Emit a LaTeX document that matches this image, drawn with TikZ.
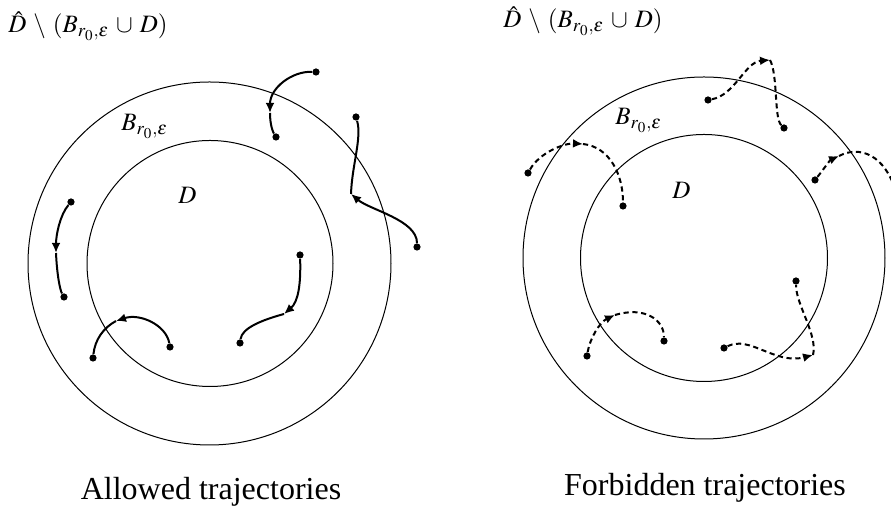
\documentclass[tikz,border=0pt]{standalone}
\usepackage{mathptmx}
\usepackage{fontspec}
\setmainfont{Liberation Serif}
\usetikzlibrary{arrows.meta}
\newcommand\setlabelfont{\fontsize{12.5}{14}\selectfont\medmuskip=5mu\relax}

\begin{document}
\begin{tikzpicture}[
  x=0.5pt,y=-0.5pt,
  ring/.style={line width=0.5pt},
  traj/.style={line width=1pt},
  dashtraj/.style={traj,dash pattern=on 2.6pt off 1.8pt},
  headed/.style={-{Latex[length=5pt,width=4.4pt]}},
  dot/.style={circle,fill,inner sep=0pt,minimum size=3.6pt},
  setlabel/.style={font=\setlabelfont,inner sep=0pt,anchor=base west},
  caption/.style={font=\fontsize{16}{19}\selectfont,inner sep=0pt,anchor=base}
]
  \useasboundingbox (0,0) rectangle (891,506);

  % left picture: allowed
  \draw[ring] (209.5,263.5) circle[radius=181.5];
  \draw[ring] (210,263.5) circle[radius=123];
  \node[setlabel] (lhat) at (8,33) {$\hat{D}\setminus(B_{r_0,\varepsilon}\cup D)$};
  \node[setlabel] (lball) at (121,131) {$B_{r_0,\varepsilon}$};
  \node[setlabel] (ldom) at (178,204) {$D$};
  \node[caption] (lcap) at (211,500) {Allowed trajectories};

  \node[dot] (L1a) at (316,72) {};
  \node[dot] (L1b) at (276,137) {};
  \coordinate (L1m) at (270,113);
  \node[dot] (L2a) at (417,247) {};
  \node[dot] (L2b) at (356,117) {};
  \coordinate (L2m) at (351,194);
  \node[dot] (L3a) at (71,202) {};
  \node[dot] (L3b) at (64,297) {};
  \coordinate (L3m) at (56,253);
  \node[dot] (L4a) at (300,255) {};
  \node[dot] (L4b) at (240,343) {};
  \coordinate (L4m) at (284,314);
  \node[dot] (L5a) at (170,347) {};
  \node[dot] (L5b) at (93,358) {};
  \coordinate (L5m) at (116,321);

  \draw[traj,headed] (L1a) .. controls (292,71) and (270,88) .. (L1m);
  \draw[traj] (L1m) .. controls (270,125) and (273,132) .. (L1b);
  \draw[traj,headed] (L2a) .. controls (417,220) and (370,210) .. (L2m);
  \draw[traj] (L2m) .. controls (352,165) and (362,138) .. (L2b);
  \draw[traj,headed] (L3a) .. controls (60,215) and (56,235) .. (L3m);
  \draw[traj] (L3m) .. controls (57,275) and (60,290) .. (L3b);
  \draw[traj,headed] (L4a) .. controls (301,285) and (298,302) .. (L4m);
  \draw[traj] (L4m) .. controls (262,320) and (242,328) .. (L4b);
  \draw[traj,headed] (L5a) .. controls (166,325) and (140,313) .. (L5m);
  \draw[traj] (L5m) .. controls (103,328) and (95,340) .. (L5b);

  % right picture: forbidden
  \draw[ring] (704,258) circle[radius=181];
  \draw[ring] (704,258) circle[radius=123.5];
  \node[setlabel] (rhat) at (503,28) {$\hat{D}\setminus(B_{r_0,\varepsilon}\cup D)$};
  \node[setlabel] (rball) at (615,125) {$B_{r_0,\varepsilon}$};
  \node[setlabel] (rdom) at (672,199) {$D$};
  \node[caption] (rcap) at (705,496) {Forbidden trajectories};

  \node[dot] (R1a) at (528,173) {};
  \node[dot] (R1b) at (623,206) {};
  \coordinate (R1m) at (583,144);
  \node[dot] (R2a) at (708,100) {};
  \node[dot] (R2b) at (784,128) {};
  \coordinate (R2m) at (770,60);
  \node[dot] (R3a) at (815,180) {};
  \coordinate (R3m) at (839,156);
  \coordinate (R3e) at (896,192);
  \node[dot] (R4a) at (587,356) {};
  \node[dot] (R4b) at (664,341) {};
  \coordinate (R4m) at (615,315);
  \node[dot] (R5a) at (724,348) {};
  \node[dot] (R5b) at (796,281) {};
  \coordinate (R5m) at (813,355);

  \draw[dashtraj,headed] (R1a) .. controls (540,152) and (565,143) .. (R1m);
  \draw[dashtraj] (R1m) .. controls (610,147) and (623,175) .. (R1b);
  \draw[dashtraj,headed] (R2a) .. controls (735,95) and (745,62) .. (R2m);
  \draw[dashtraj] (R2m) .. controls (778,75) and (774,118) .. (R2b);
  \draw[dashtraj,headed] (R3a) .. controls (823,170) and (830,160) .. (R3m);
  \draw[dashtraj] (R3m) .. controls (860,145) and (885,155) .. (R3e);
  \draw[dashtraj,headed] (R4a) .. controls (590,338) and (600,322) .. (R4m);
  \draw[dashtraj] (R4m) .. controls (645,306) and (664,320) .. (R4b);
  \draw[dashtraj,headed] (R5a) .. controls (750,335) and (775,365) .. (R5m);
  \draw[dashtraj] (R5m) .. controls (818,335) and (796,305) .. (R5b);
\end{tikzpicture}
\end{document}
